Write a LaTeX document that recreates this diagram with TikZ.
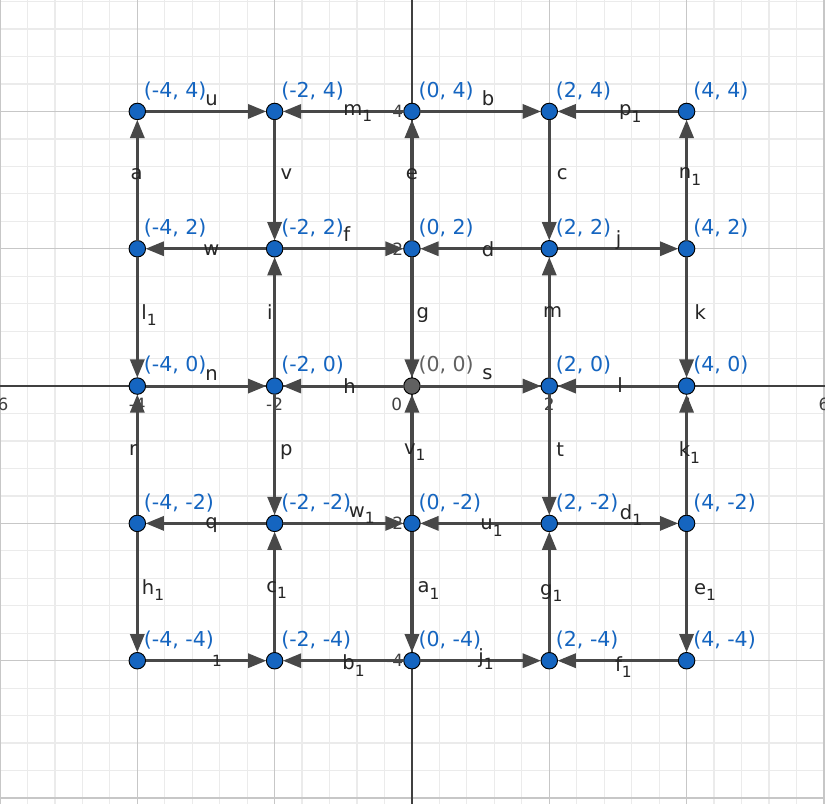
\documentclass[tikz,border=0pt]{standalone}
\usepackage{fontspec}
\setmainfont{DejaVu Sans}
\usetikzlibrary{arrows.meta}

\definecolor{ggbblue}{RGB}{21,101,192}
\definecolor{ggbgray}{RGB}{97,97,97}
\definecolor{segcol}{RGB}{72,72,72}
\newcommand{\lsub}[1]{\raisebox{-0.6ex}{\fontsize{6.4}{6.4}\selectfont #1}}

\begin{document}
\begin{tikzpicture}[
    edge/.style={draw=segcol, line width=1.3pt, -{Triangle[length=7.6pt,width=5.8pt]}},
    pt/.style={circle, draw=black, line width=0.4pt, minimum size=0.24cm, inner sep=0pt, outer sep=0pt},
    ptlabel/.style={anchor=south west, inner sep=0pt, font=\fontsize{8.5}{10}\selectfont},
    elabel/.style={inner sep=0pt, text=black!85, font=\fontsize{8.1}{9}\selectfont},
    ticklabel/.style={inner sep=0pt, text=black!75, font=\fontsize{7}{8}\selectfont}
  ]
        % fundo e grelha
        \fill[white] (-6,-6.074) rectangle (6.016,5.623);
        \useasboundingbox (-6,-6.074) rectangle (6.016,5.623);
        \draw[black!8, line width=0.5pt, step=0.4] (-6.4,-6.4) grid (6.4,6);
        \draw[black!22, line width=0.6pt, step=2] (-6.4,-6.4) grid (6.4,6);

        % eixos
        \draw[black!75, line width=0.8pt] (-6.1,0) -- (6.1,0);
        \draw[black!75, line width=0.8pt] (0,-6.2) -- (0,5.8);
        \foreach \x in {-6,-4,-2,2,4,6}
        \node[ticklabel] at (\x,-0.27) {\x};
        \node[ticklabel] at (-0.22,-0.27) {0};
        \foreach \y in {-4,-2,2,4}
        \node[ticklabel, anchor=east] at (-0.12,\y) {\y};

        % pontos
        \foreach \x/\c in {-4/A,-2/B,0/C,2/D,4/E}
        \foreach \y/\r in {-4/1,-2/2,0/3,2/4,4/5} {
            \ifnum\x=0 \ifnum\y=0 \def\pc{ggbgray}\else\def\pc{ggbblue}\fi\else\def\pc{ggbblue}\fi
            \node[pt, fill=\pc] (\c\r) at (\x,\y) {};
            \node[ptlabel, text=\pc] at ([shift={(0.09,0.16)}]\c\r) {(\x, \y)};
        }

        % segmentos
        \foreach \a/\b/\lx/\ly/\t in {
        A5/B5/-2.92/4.17/u, C5/B5/-0.79/3.98/m\lsub{1},
        C5/D5/1.11/4.19/b, E5/D5/3.18/3.97/p\lsub{1},
        A4/A5/-4.01/3.08/a, A4/A3/-3.83/1.03/l\lsub{1},
        A2/A3/-4.06/-0.93/r, A2/A1/-3.77/-2.97/h\lsub{1},
        B5/B4/-1.83/3.08/v, B3/B4/-2.07/1.08/i,
        B3/B2/-1.83/-0.96/p, B1/B2/-1.97/-2.97/c\lsub{1},
        C4/C5/0/3.08/e, C4/C3/0.16/1.03/g,
        C2/C3/0.04/-0.96/v\lsub{1}, C2/C1/0.24/-2.98/a\lsub{1},
        D5/D4/2.19/3.08/c, D3/D4/2.05/1.08/m,
        D3/D2/2.16/-0.93/t, D1/D2/2.03/-3.01/g\lsub{1},
        E4/E5/4.05/3.05/n\lsub{1}, E4/E3/4.2/1.08/k,
        E2/E3/4.04/-0.97/k\lsub{1}, E2/E1/4.27/-3.0/e\lsub{1},
        B4/A4/-2.92/1.98/w, B4/C4/-0.95/2.22/f,
        D4/C4/1.11/2.0/d, D4/E4/3.01/2.13/j,
        A3/B3/-2.92/0.16/n, C3/B3/-0.91/0.0/h,
        C3/D3/1.10/0.18/s, E3/D3/3.03/0.01/l,
        B2/A2/-2.92/-2.02/q, B2/C2/-0.73/-1.88/w\lsub{1},
        D2/C2/1.16/-2.06/u\lsub{1}, D2/E2/3.19/-1.88/d\lsub{1},
        A1/B1/-2.84/-4.0/\lsub{1}, C1/B1/-0.85/-4.07/b\lsub{1},
        C1/D1/1.08/-3.98/j\lsub{1}, E1/D1/3.08/-4.09/f\lsub{1}} {
            \draw[edge] (\a) -- (\b);
            \node[elabel] at (\lx,\ly) {\t};
        }
    \end{tikzpicture}
\end{document}
